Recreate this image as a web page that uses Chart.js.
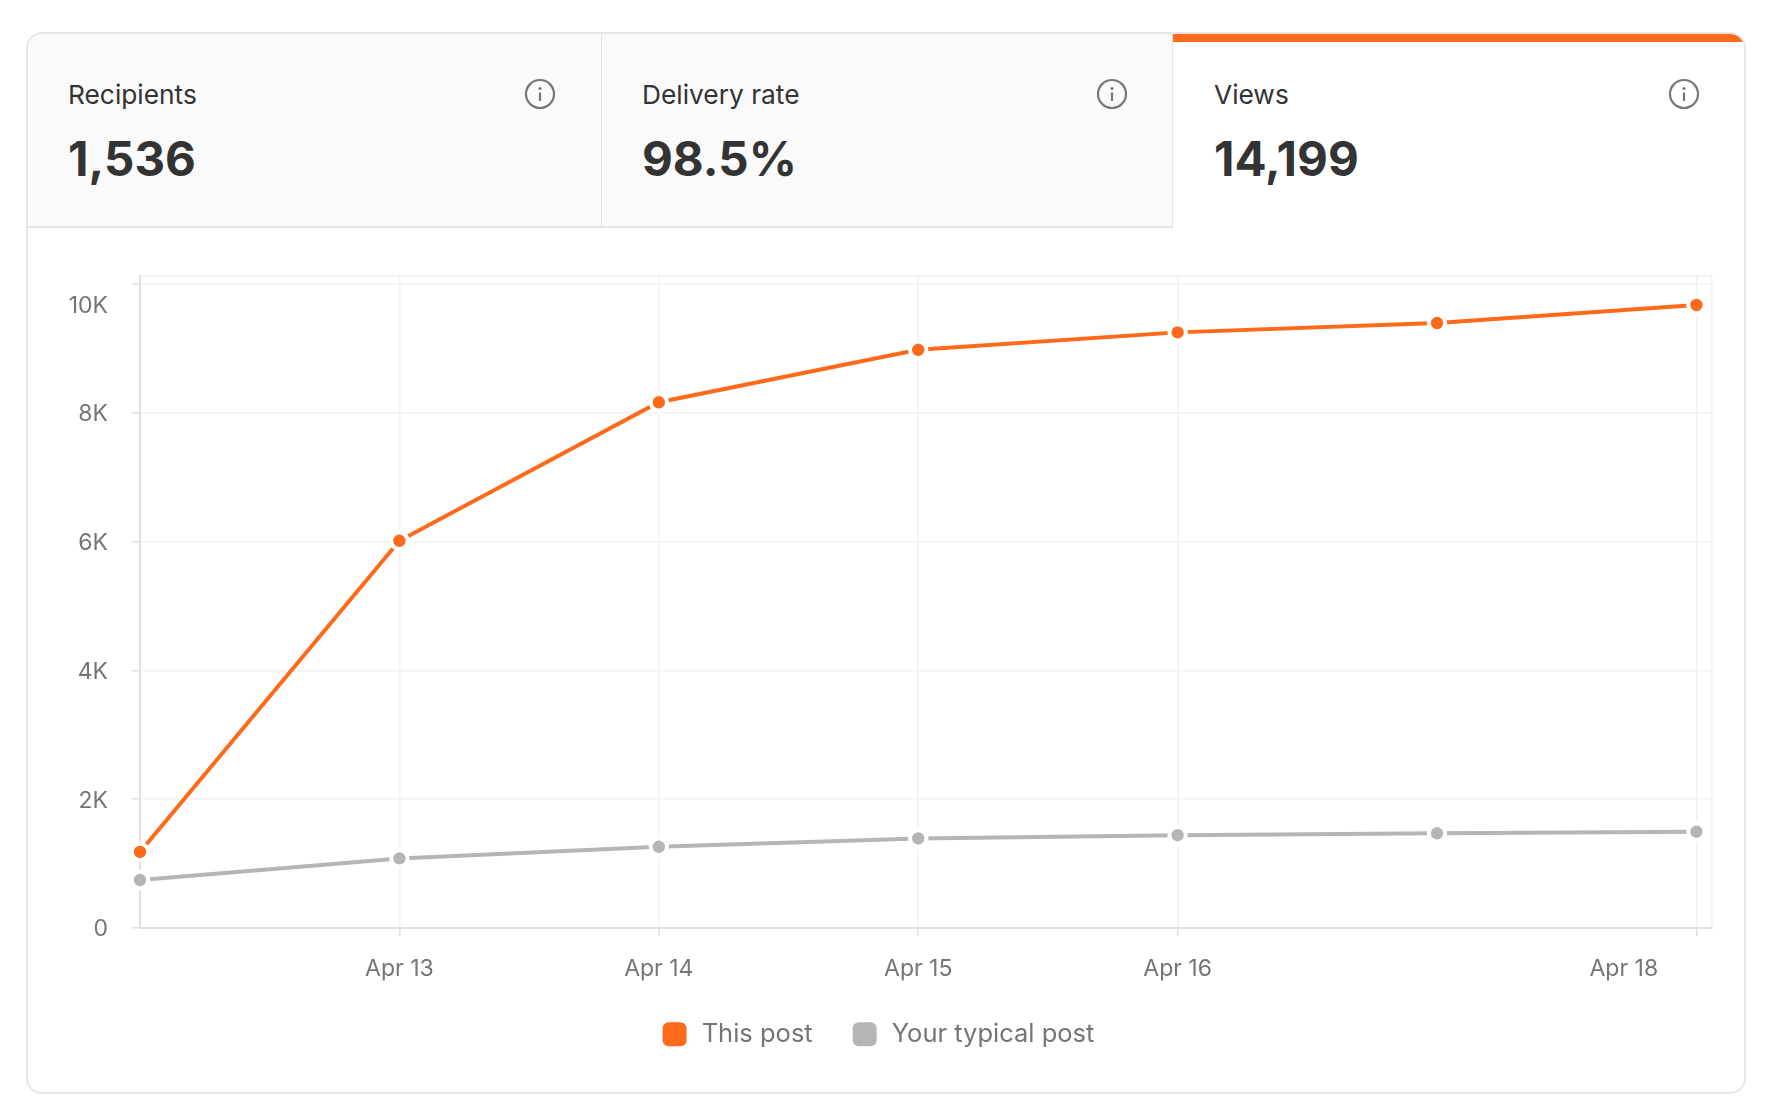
<!DOCTYPE html>
<html lang="en">
<head>
  <meta charset="UTF-8">
  <title>Post stats</title>
  <script src="https://cdn.jsdelivr.net/npm/chart.js"></script>
  <style>
    html, body { margin: 0; background: #fff; font-family: Inter, sans-serif; color: #333; }
    body { width: 1774px; height: 1112px; position: relative; overflow: hidden; }
    #card { position: absolute; left: 26px; top: 32px; width: 1720px; height: 1062px; box-sizing: border-box;
            border: 2px solid #e6e6e6; border-radius: 16px; overflow: hidden; }
    .tab { position: absolute; top: 0; height: 194px; box-sizing: border-box; background: #fafafa;
           border-right: 2px solid #e4e4e4; border-bottom: 2px solid #e4e4e4; }
    .tab.active { background: #fff; border: 0; border-top: 8px solid #ff6a1a; }
    .tab .name { position: absolute; font-size: 26.3px; line-height: 30px; white-space: nowrap; }
    .tab .value { position: absolute; font-size: 47.5px; line-height: 58px; font-weight: 700; white-space: nowrap; }
    .tab svg { position: absolute; width: 32px; height: 32px; }
    #wrap { position: absolute; left: 29px; top: 229px; width: 1715px; height: 862px; }
  </style>
</head>
<body>
  <div id="card"></div>
  <div id="wrap"><canvas id="viewsChart"></canvas></div>

  <script>
    const categories = ['Apr 12', 'Apr 13', 'Apr 14', 'Apr 15', 'Apr 16', 'Apr 17', 'Apr 18'];
    const thisPost = [1180, 6010, 8160, 8975, 9245, 9390, 9670];
    const typicalPost = [745, 1080, 1260, 1390, 1440, 1470, 1495];
    const yTicks = [0, 2000, 4000, 6000, 8000, 10000];
    const yLabels = ['0', '2K', '4K', '6K', '8K', '10K'];
    const xTickDays = [1, 2, 3, 4, 6];
    const tabNames = ['Recipients', 'Delivery rate', 'Views'];
    const tabValues = ['1,536', '98.5%', '14,199'];

    const ORANGE = '#ff6a1a';
    const GRAY = '#b5b5b5';
    const GRID = '#f2f2f2';
    const AXIS = '#e0e0e0';
    const TEXT = '#757575';

    // header tabs
    const tabLeft = [0, 574, 1145];
    const tabWidth = [575, 572, 573];
    const tabText = [40, 40, 41];
    const tabIcon = [496, 494, 495];
    const card = document.getElementById('card');
    tabNames.forEach((name, i) => {
      const tab = document.createElement('div');
      tab.className = 'tab' + (i === 2 ? ' active' : '');
      tab.style.left = tabLeft[i] + 'px';
      tab.style.width = tabWidth[i] + 'px';
      const shift = i === 2 ? -8 : 0;
      tab.innerHTML =
        `<div class="name" style="left:${tabText[i]}px;top:${46 + shift}px">${name}</div>` +
        `<div class="value" style="left:${tabText[i]}px;top:${96 + shift}px">${tabValues[i]}</div>` +
        `<svg viewBox="0 0 32 32" style="left:${tabIcon[i]}px;top:${44 + shift}px">` +
        `<circle cx="16" cy="16" r="14" fill="none" stroke="#777" stroke-width="2.2"/>` +
        `<rect x="14.9" y="14.5" width="2.2" height="8.5" fill="#777"/><circle cx="16" cy="10.5" r="1.5" fill="#777"/></svg>`;
      card.appendChild(tab);
    });

    // the picture puts "10K" and "Apr 18" away from their own tick marks,
    // so those two labels get their own invisible tick
    const Y_LABEL_AT = 9683;
    const Y_TOP = 10120;
    const X_LABEL_AT = 5.72;
    const X_RIGHT = 6.06;

    const yTickList = yTicks.map((value, i) => ({
      value, text: value === 10000 ? '' : yLabels[i], mark: true
    })).concat([
      { value: Y_LABEL_AT, text: yLabels[yLabels.length - 1], mark: false, line: false },
      { value: Y_TOP, text: '', mark: false, line: true }
    ]).sort((a, b) => a.value - b.value);

    const xTickList = [{ value: 0, text: '', mark: false, line: false }]
      .concat(xTickDays.map(day => ({
        value: day, text: day === 6 ? '' : categories[day], mark: true
      })))
      .concat([
        { value: X_LABEL_AT, text: categories[6], mark: false, line: false },
        { value: X_RIGHT, text: '', mark: false, line: true }
      ])
      .sort((a, b) => a.value - b.value);

    function gridOptions(list) {
      const item = ctx => list[ctx.index] || {};
      return {
        color: ctx => (item(ctx).mark || item(ctx).line ? GRID : 'transparent'),
        tickColor: ctx => (item(ctx).mark ? AXIS : 'transparent'),
        tickLength: 8,
        lineWidth: 1.5,
        tickWidth: 1.5
      };
    }

    function lineData(values) {
      return values.map((y, x) => ({ x, y }));
    }

    function lineSet(label, values, color) {
      return {
        label,
        data: lineData(values),
        borderColor: color,
        backgroundColor: color,
        borderWidth: 4,
        tension: 0,
        clip: false,
        pointRadius: 8.2,
        pointHoverRadius: 8.2,
        pointBorderWidth: 4,
        pointBorderColor: '#fff',
        pointBackgroundColor: color
      };
    }

    // legend sits a little right of the plot's centre
    const legendNudge = {
      id: 'legendNudge',
      afterLayout(chart) {
        chart.legend.left += 8;
        chart.legend.right += 8;
      }
    };

    new Chart(document.getElementById('viewsChart'), {
      type: 'line',
      data: {
        datasets: [
          lineSet('This post', thisPost, ORANGE),
          lineSet('Your typical post', typicalPost, GRAY)
        ]
      },
      plugins: [legendNudge],
      options: {
        responsive: true,
        maintainAspectRatio: false,
        animation: false,
        layout: { padding: { top: 47, right: 32, bottom: 34, left: 0 } },
        plugins: {
          tooltip: { enabled: false },
          legend: {
            position: 'bottom',
            labels: {
              boxWidth: 24,
              boxHeight: 24,
              padding: 40,
              color: TEXT,
              font: { family: 'Inter', size: 25.5 },
              useBorderRadius: true,
              borderRadius: 6,
              generateLabels(chart) {
                return Chart.defaults.plugins.legend.labels.generateLabels(chart)
                  .map(entry => Object.assign(entry, { lineWidth: 0, text: '\u200A' + entry.text }));
              }
            }
          }
        },
        scales: {
          x: {
            type: 'linear',
            min: 0,
            max: X_RIGHT,
            afterBuildTicks(scale) { scale.ticks = xTickList.map(t => ({ value: t.value })); },
            afterFit(scale) { scale.height = 53.5; },
            grid: gridOptions(xTickList),
            border: { color: AXIS, width: 2 },
            ticks: {
              autoSkip: false,
              maxRotation: 0,
              padding: 19,
              color: TEXT,
              font: { family: 'Inter', size: 23 },
              callback: (value, index) => xTickList[index].text
            }
          },
          y: {
            min: 0,
            max: Y_TOP,
            afterBuildTicks(scale) { scale.ticks = yTickList.map(t => ({ value: t.value })); },
            afterFit(scale) { scale.width = 111; },
            grid: gridOptions(yTickList),
            border: { color: AXIS, width: 2 },
            ticks: {
              autoSkip: false,
              padding: 24,
              labelOffset: 1.5,
              color: TEXT,
              font: { family: 'Inter', size: 23 },
              callback: (value, index) => yTickList[index].text
            }
          }
        }
      }
    });
  </script>
</body>
</html>
